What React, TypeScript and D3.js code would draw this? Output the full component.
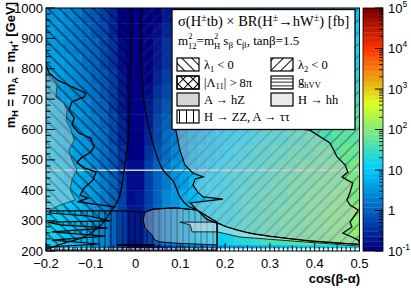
import React from 'react';
import * as d3 from 'd3';

// ---------- data ----------
// cross-section x BR along cos(beta-alpha), bins of 0.02 from -0.2 to 0.5 (reference row mH ~ 300 GeV) [fb]
const colValues = [
  15.2, 12.2, 9.5, 7.2, 5.2, 3.5, 2.2, 1.2, 0.52, 0.19,
  0.19, 0.52, 1.2, 2.2, 3.5, 5.2, 7.2, 9.5, 12.2, 15.2,
  18.5, 22, 26, 30, 35, 40, 45, 51, 57, 63,
  70, 77, 84, 92, 100,
];
const cosStart = -0.2;
const cosStep = 0.02;
// mass rows (GeV)
const mHEdges = [210, 220, 250, 300, 350, 400, 450, 500, 550, 600, 650, 700, 750, 800, 850, 900, 950, 1000];
// relative scale per mass row, for cos>0 and cos<0
const rowScalePos = [0.15, 0.95, 1.0, 1.0, 0.97, 0.9, 0.8, 0.68, 0.55, 0.44, 0.35, 0.28, 0.22, 0.18, 0.15, 0.12, 0.1];
const rowScaleNeg = [0.7, 0.95, 1.0, 0.95, 0.88, 0.8, 0.72, 0.64, 0.56, 0.49, 0.43, 0.38, 0.34, 0.3, 0.27, 0.25, 0.23];
const gapMass = 466;

// contours (cos(beta-alpha), mH)
const curveLambda1: [number, number][] = [
  [-0.008, 1000], [-0.012, 780], [-0.017, 552], [-0.021, 516], [-0.026, 460], [-0.037, 374],
  [-0.053, 335], [-0.077, 286], [-0.115, 246], [-0.16, 226], [-0.191, 210], [-0.2, 205],
];
const curveLambda2: [number, number][] = [
  [0.012, 1000], [0.013, 800], [0.018, 700], [0.039, 552], [0.061, 467], [0.084, 430], [0.099, 378],
  [0.117, 348], [0.137, 335], [0.159, 305], [0.188, 289], [0.204, 279], [0.255, 259], [0.307, 247],
  [0.383, 234], [0.456, 226], [0.5, 222],
];
const greyLineLeft: [number, number][] = [
  [-0.2, 789], [-0.187, 770], [-0.175, 747], [-0.178, 707], [-0.16, 687], [-0.153, 664], [-0.155, 631],
  [-0.144, 598], [-0.137, 565], [-0.149, 532], [-0.142, 500], [-0.131, 467], [-0.142, 434], [-0.146, 401],
  [-0.135, 368], [-0.169, 351], [-0.191, 335], [-0.2, 332],
];
const blackLineLeft: [number, number][] = [
  [-0.2, 812], [-0.193, 786], [-0.175, 763], [-0.137, 737], [-0.111, 720], [-0.115, 707], [-0.142, 691],
  [-0.149, 664], [-0.137, 638], [-0.142, 615], [-0.126, 588], [-0.1, 572], [-0.093, 542], [-0.1, 526],
  [-0.122, 506], [-0.131, 490], [-0.113, 473], [-0.088, 460], [-0.095, 434], [-0.115, 407], [-0.124, 384],
  [-0.106, 374], [-0.13, 362], [-0.08, 352], [-0.045, 345],
];
const jaggedMid: [number, number][] = [
  [0.09, 598], [0.099, 532], [0.11, 483], [0.128, 457], [0.151, 444], [0.133, 437], [0.128, 417],
  [0.139, 394], [0.151, 378], [0.195, 371], [0.122, 358], [0.137, 335],
];
const jaggedRight: [number, number][] = [
  [0.3, 615], [0.389, 598], [0.434, 556], [0.45, 510], [0.468, 483], [0.474, 460], [0.461, 444],
  [0.472, 434], [0.485, 424], [0.479, 394], [0.472, 368], [0.479, 351], [0.497, 335], [0.49, 319],
  [0.479, 295], [0.483, 279], [0.463, 259], [0.483, 246], [0.497, 236], [0.5, 226],
];
const zzRegion: [number, number][] = [
  [-0.191, 332], [-0.026, 332], [0.021, 328], [0.039, 338], [0.088, 342], [0.137, 335], [0.166, 309],
  [0.182, 295], [0.182, 203], [-0.2, 203], [-0.2, 213], [-0.079, 223], [-0.187, 236], [-0.068, 249],
  [-0.187, 263], [-0.062, 276], [-0.169, 286], [-0.196, 295], [-0.057, 299], [-0.102, 315], [-0.191, 325],
];
const hzBlob: [number, number][] = [
  [0.021, 328], [0.017, 302], [0.021, 276], [0.037, 253], [0.043, 236], [0.055, 230], [0.084, 226],
  [0.182, 220], [0.182, 295], [0.166, 309], [0.137, 335], [0.088, 342], [0.039, 338],
];
const hhFlag: [number, number][] = [
  [0.099, 295], [0.182, 295], [0.182, 263], [0.126, 263], [0.122, 286],
];
const hhWedge: [number, number][] = [
  [0.182, 293], [0.204, 279], [0.255, 259], [0.307, 247], [0.383, 234], [0.456, 226], [0.5, 222],
  [0.5, 216], [0.233, 246], [0.182, 263],
];
const bottomBar: [number, number][] = [[-0.041, 220], [0.043, 220]];

const xTicks = [-0.2, -0.1, 0, 0.1, 0.2, 0.3, 0.4, 0.5];
const yTicks = [200, 300, 400, 500, 600, 700, 800, 900, 1000];
const zExponents = [-1, 0, 1, 2, 3, 4, 5];

// ---------- palette ----------
const stops = [0, 0.34, 0.61, 0.84, 1];
const pr = [0, 0, 0.87, 1, 0.51];
const pg = [0, 0.81, 1, 0.2, 0];
const pb = [0.51, 1, 0.12, 0, 0];
const NCOL = 50;
function grad(t: number) {
  let i = 0;
  while (i < stops.length - 2 && t > stops[i + 1]) i++;
  const f = (t - stops[i]) / (stops[i + 1] - stops[i]);
  const c = (a: number[]) => Math.round(255 * (a[i] + (a[i + 1] - a[i]) * f));
  return `rgb(${c(pr)},${c(pg)},${c(pb)})`;
}
const levelColors = d3.range(NCOL).map((k) => grad(k / (NCOL - 1)));

export default function App() {
  const L = 46, R = 359.5, T = 8, B = 251;
  const x = d3.scaleLinear().domain([-0.2, 0.5]).range([L, R]);
  const y = d3.scaleLinear().domain([200, 1000]).range([B, T]);
  const z = d3.scaleLog().domain([0.1, 1e5]).range([B, T]);
  const zt = d3.scaleLog().domain([0.1, 1e5]).range([0, 1]).clamp(true);
  const colorOf = (v: number) => {
    const k = Math.min(NCOL - 1, Math.max(0, Math.floor(zt(v) * NCOL)));
    return levelColors[k];
  };
  const lin = d3.line<[number, number]>().x((d) => x(d[0])).y((d) => y(d[1]));
  const smooth = d3.line<[number, number]>().x((d) => x(d[0])).y((d) => y(d[1])).curve(d3.curveCatmullRom.alpha(0.5));
  const poly = (p: [number, number][]) => lin(p) + 'Z';

  const cells: JSX.Element[] = [];
  colValues.forEach((v, i) => {
    const c0 = cosStart + i * cosStep;
    const c1 = c0 + cosStep;
    for (let j = 0; j < mHEdges.length - 1; j++) {
      const s = (c0 + c1) / 2 < 0 ? rowScaleNeg[j] : rowScalePos[j];
      const val = v * s;
      const xa = x(c0), xb = x(c1);
      const ya = y(mHEdges[j + 1]), yb = y(mHEdges[j]);
      cells.push(
        <rect key={`c${i}-${j}`} x={xa} y={ya} width={xb - xa + 0.4} height={yb - ya + 0.4} fill={colorOf(val)} />
      );
    }
  });

  const l1Path = smooth(curveLambda1) + `L${x(-0.2)},${y(1000)}Z`;
  const l2Path = smooth(curveLambda2) + `L${x(0.5)},${y(1000)}Z`;
  const greyLeftPath = lin(greyLineLeft) + `L${x(-0.2)},${y(789)}Z`;
  const rightRegion: [number, number][] = [
    ...jaggedMid,
    ...curveLambda2.filter((d) => d[0] > 0.14),
    ...[...jaggedRight].reverse(),
    [0.3, 640], [0.09, 640],
  ];

  // ticks
  const xMinor = d3.range(0, 71).map((k) => -0.2 + k * 0.01);
  const yMinor = d3.range(0, 41).map((k) => 200 + k * 20);
  const zMinor: number[] = [];
  for (let e = -1; e < 5; e++) for (let m = 2; m <= 9; m++) zMinor.push(m * Math.pow(10, e));

  const sans = 'Liberation Sans, Arial, Helvetica, sans-serif';
  const serif = 'Liberation Serif, Times New Roman, serif';
  const CBL = 363, CBR = 383;
  const bandH = (B - T) / NCOL;

  return (
    <svg width={411} height={288} style={{ position: 'absolute', left: 0, top: 0, background: '#fff' }} xmlns="http://www.w3.org/2000/svg">
      <defs>
        <clipPath id="plot"><rect x={L} y={T} width={R - L} height={B - T} /></clipPath>
        <pattern id="hBack" width={8} height={8} patternUnits="userSpaceOnUse" patternTransform="rotate(-45)">
          <line x1={4} y1={0} x2={4} y2={8} stroke="#000" strokeWidth={0.85} />
        </pattern>
        <pattern id="hFwd" width={8.5} height={8.5} patternUnits="userSpaceOnUse" patternTransform="rotate(45)">
          <line x1={4} y1={0} x2={4} y2={8.5} stroke="#333" strokeWidth={0.65} />
        </pattern>
        <pattern id="hVert" width={6} height={6} patternUnits="userSpaceOnUse">
          <line x1={3} y1={0} x2={3} y2={6} stroke="#000" strokeWidth={0.75} />
        </pattern>
        <pattern id="lBack" width={7} height={7} patternUnits="userSpaceOnUse" patternTransform="rotate(-45)">
          <line x1={3.5} y1={0} x2={3.5} y2={7} stroke="#000" strokeWidth={1} />
        </pattern>
        <pattern id="lFwd" width={7} height={7} patternUnits="userSpaceOnUse" patternTransform="rotate(45)">
          <line x1={3.5} y1={0} x2={3.5} y2={7} stroke="#000" strokeWidth={1} />
        </pattern>
        <pattern id="lHor" width={4} height={3.5} patternUnits="userSpaceOnUse">
          <line x1={0} y1={1.75} x2={4} y2={1.75} stroke="#000" strokeWidth={0.9} />
        </pattern>
        <pattern id="lVert" width={7} height={4} patternUnits="userSpaceOnUse" x={1}>
          <line x1={3.5} y1={0} x2={3.5} y2={4} stroke="#000" strokeWidth={1} />
        </pattern>
      </defs>

      <g clipPath="url(#plot)">
        {cells}
        <line x1={L} x2={R} y1={y(gapMass)} y2={y(gapMass)} stroke="#d4d4d4" strokeWidth={1.5} />
        {/* hatched regions */}
        <path d={l1Path} fill="url(#hBack)" />
        <path d={l2Path} fill="url(#hFwd)" />
        <path d={poly(zzRegion)} fill="url(#hVert)" />
        {/* grey filled regions */}
        <path d={greyLeftPath} fill="#c8c8c8" fillOpacity={0.45} />
        <path d={poly(rightRegion)} fill="#c8c8c8" fillOpacity={0.4} />
        <path d={poly(hzBlob)} fill="#c8c8c8" fillOpacity={0.4} stroke="#000" strokeWidth={1} />
        <path d={poly(hhWedge)} fill="#e6e6e6" fillOpacity={0.5} stroke="#000" strokeWidth={0.8} />
        <path d={poly(hhFlag)} fill="#e6e6e6" fillOpacity={0.5} stroke="#000" strokeWidth={0.8} />
        {/* contour lines */}
        <path d={lin(greyLineLeft) || ''} fill="none" stroke="#444" strokeWidth={1} />
        <path d={lin(blackLineLeft) || ''} fill="none" stroke="#000" strokeWidth={1.4} />
        <path d={lin(jaggedMid) || ''} fill="none" stroke="#000" strokeWidth={1.2} />
        <path d={lin(jaggedRight) || ''} fill="none" stroke="#000" strokeWidth={1.3} />
        <path d={poly(zzRegion)} fill="none" stroke="#000" strokeWidth={1.2} />
        <path d={smooth(curveLambda1) || ''} fill="none" stroke="#000" strokeWidth={1.3} />
        <path d={smooth(curveLambda2) || ''} fill="none" stroke="#000" strokeWidth={1.3} />
        <path d={lin(bottomBar) || ''} fill="none" stroke="#000" strokeWidth={2} />
      </g>

      {/* frame */}
      <rect x={L} y={T} width={R - L} height={B - T} fill="none" stroke="#000" strokeWidth={1} />
      {/* x ticks */}
      {xMinor.map((c, k) => {
        const major = k % 10 === 0;
        const mid = k % 5 === 0;
        const len = major ? 8 : mid ? 5.5 : 4;
        return <line key={`xt${k}`} x1={x(c)} x2={x(c)} y1={B} y2={B - len} stroke="#000" strokeWidth={1} />;
      })}
      {yMinor.map((m, k) => {
        const major = k % 5 === 0;
        const len = major ? 9 : 4.5;
        return <line key={`yt${k}`} x1={L} x2={L + len} y1={y(m)} y2={y(m)} stroke="#000" strokeWidth={1} />;
      })}
      {xTicks.map((c) => (
        <text key={`xl${c}`} x={x(c)} y={267.5} textAnchor="middle" fontFamily={sans} fontSize={13}>
          {c === 0 ? '0' : (c < 0 ? '\u2212' : '') + Math.abs(c).toFixed(1)}
        </text>
      ))}
      {yTicks.map((m) => (
        <text key={`yl${m}`} x={43} y={y(m) + 4.5} textAnchor="end" fontFamily={sans} fontSize={13}>{m}</text>
      ))}
      <text x={360} y={283} textAnchor="end" fontFamily={sans} fontWeight="bold" fontSize={13}>cos(β-α)</text>
      <text transform={`translate(15,2) rotate(-90)`} textAnchor="end" fontFamily={sans} fontWeight="bold" fontSize={13}>
        <tspan>m</tspan>
        <tspan dy={3} fontSize={9}>H</tspan>
        <tspan dy={-3}> = m</tspan>
        <tspan dy={3} fontSize={9}>A</tspan>
        <tspan dy={-3}> = m</tspan>
        <tspan dy={3} fontSize={9}>H</tspan>
        <tspan dy={-4} fontSize={7}>+</tspan>
        <tspan dy={1}> [GeV]</tspan>
      </text>

      {/* legend */}
      <rect x={172} y={9.5} width={183} height={120} fill="#fff" stroke="#000" strokeWidth={1.3} />
      <text x={178} y={26} fontFamily={serif} fontSize={14.5}>
        <tspan>σ(H</tspan><tspan dy={-5} fontSize={10}>±</tspan><tspan dy={5}>tb) × BR(H</tspan>
        <tspan dy={-5} fontSize={10}>±</tspan><tspan dy={5}>→hW</tspan><tspan dy={-5} fontSize={10}>±</tspan>
        <tspan dy={5}>) [fb]</tspan>
      </text>
      <text x={178} y={45} fontFamily={serif} fontSize={13}>
        <tspan>m</tspan><tspan dy={-6} fontSize={8.5}>2</tspan><tspan dx={-4.3} dy={9.5} fontSize={8.5}>12</tspan>
        <tspan dy={-3.5}>=m</tspan><tspan dy={-6} fontSize={8.5}>2</tspan><tspan dx={-4.3} dy={9.5} fontSize={8.5}>H</tspan>
        <tspan dy={-3.5}> s</tspan><tspan dy={3} fontSize={9}>β</tspan><tspan dy={-3}> c</tspan>
        <tspan dy={3} fontSize={9}>β</tspan><tspan dy={-3}>, tanβ=1.5</tspan>
      </text>
      {/* entries */}
      <rect x={177} y={58} width={22} height={13} fill="url(#lBack)" stroke="#000" strokeWidth={1.2} />
      <text x={204} y={69} fontFamily={serif} fontSize={12.5}><tspan>λ</tspan><tspan dy={2.5} fontSize={8.5}>1</tspan><tspan dy={-2.5}> &lt; 0</tspan></text>
      <rect x={271} y={58} width={22} height={13} fill="url(#lFwd)" stroke="#000" strokeWidth={1.2} />
      <text x={298} y={69} fontFamily={serif} fontSize={12.5}><tspan>λ</tspan><tspan dy={2.5} fontSize={8.5}>2</tspan><tspan dy={-2.5}> &lt; 0</tspan></text>

      <rect x={177} y={76} width={22} height={13} fill="#fff" stroke="#000" strokeWidth={1.2} />
      <rect x={177} y={76} width={22} height={13} fill="url(#lBack)" />
      <rect x={177} y={76} width={22} height={13} fill="url(#lFwd)" stroke="#000" strokeWidth={1.2} />
      <text x={204} y={86.5} fontFamily={serif} fontSize={12.5}><tspan>|Λ</tspan><tspan dy={2.5} fontSize={8.5}>11</tspan><tspan dy={-2.5}>| &gt; 8π</tspan></text>
      <rect x={271} y={76} width={22} height={13} fill="url(#lHor)" stroke="#000" strokeWidth={1.2} />
      <text x={298} y={85} fontFamily={serif} fontSize={12.5}><tspan>g</tspan><tspan dy={3} fontSize={8.5}>hVV</tspan></text>

      <rect x={177} y={93} width={22} height={13} fill="#d6d6d6" stroke="#000" strokeWidth={1.2} />
      <text x={204} y={103.5} fontFamily={serif} fontSize={12.5}>A → hZ</text>
      <rect x={271} y={93} width={22} height={13} fill="#eaeaea" stroke="#000" strokeWidth={1.2} />
      <text x={298} y={103.5} fontFamily={serif} fontSize={12.5}>H → hh</text>

      <rect x={177} y={110} width={22} height={13} fill="url(#lVert)" stroke="#000" strokeWidth={1.2} />
      <text x={204} y={120.5} fontFamily={serif} fontSize={12.5}>H → ZZ, A → ττ</text>

      {/* colour bar */}
      {levelColors.map((c, k) => (
        <rect key={`cb${k}`} x={CBL} y={B - (k + 1) * bandH} width={CBR - CBL} height={bandH + 0.3} fill={c} />
      ))}
      <rect x={CBL} y={T} width={CBR - CBL} height={B - T} fill="none" stroke="#000" strokeWidth={0.8} />
      {zExponents.map((e) => (
        <line key={`zM${e}`} x1={CBR} x2={CBR - 8} y1={z(Math.pow(10, e))} y2={z(Math.pow(10, e))} stroke="#000" strokeWidth={1} />
      ))}
      {zMinor.map((v, k) => (
        <line key={`zm${k}`} x1={CBR} x2={CBR - 4} y1={z(v)} y2={z(v)} stroke="#000" strokeWidth={0.8} />
      ))}
      {zExponents.map((e) => (
        <text key={`zl${e}`} x={388} y={z(Math.pow(10, e)) + 4.5} fontFamily={sans} fontSize={13}>
          {e === 0 ? '1' : e === 1 ? '10' : (
            <>
              <tspan>10</tspan>
              <tspan dy={-6} fontSize={8.5}>{e < 0 ? '-' + Math.abs(e) : e}</tspan>
            </>
          )}
        </text>
      ))}
    </svg>
  );
}
